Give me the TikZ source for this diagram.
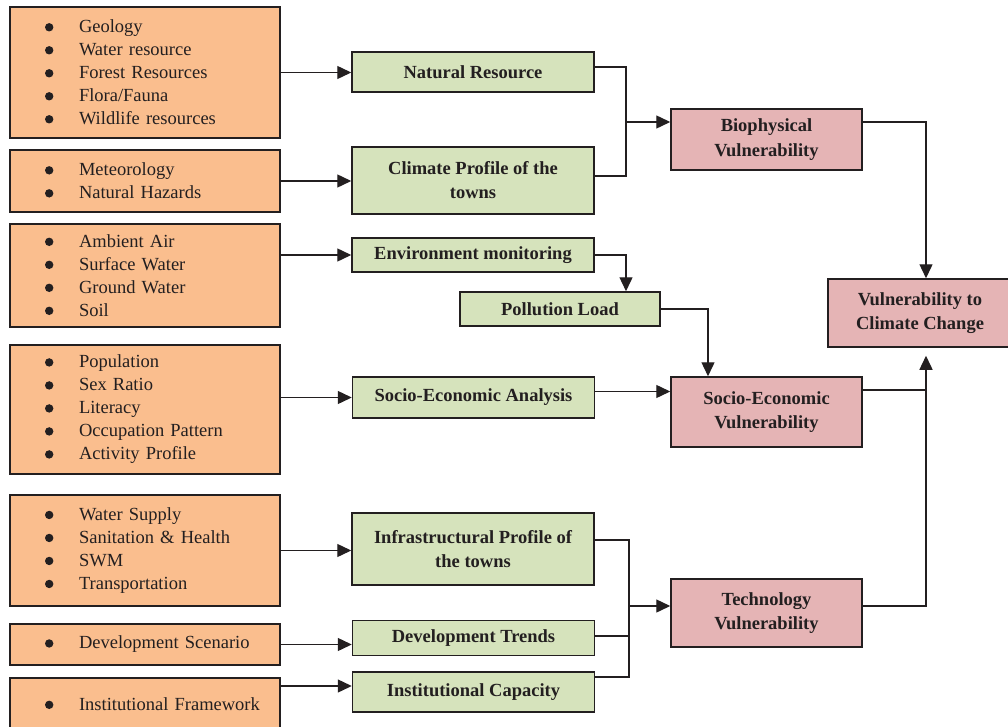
\documentclass[tikz,border=0pt]{standalone}
\usepackage{fontspec}
\setmainfont{Liberation Serif}
\usetikzlibrary{arrows.meta}
\definecolor{srcfill}{RGB}{250,190,142}
\definecolor{midfill}{RGB}{214,227,188}
\definecolor{vulfill}{RGB}{229,180,181}
\definecolor{edgegray}{RGB}{35,31,32}
\newcommand{\bitem}[1]{\hspace*{25pt}\makebox[34pt][l]{\tikz[baseline=0pt, x=1pt, y=1pt]\fill[edgegray] (4.5,5.5) circle[radius=4.2];}#1}

\begin{document}
\begin{tikzpicture}[
    x=1pt, y=-1pt,
    src/.style={rectangle, draw=edgegray, fill=srcfill, line width=1.5pt, text=edgegray, minimum width=270pt, text width=250pt, inner xsep=10pt, align=left, font=\fontsize{18.5}{23}\selectfont},
    mid/.style={rectangle, draw=edgegray, fill=midfill, line width=1.5pt, text=edgegray, minimum width=242pt, inner sep=2pt, align=center, font=\bfseries\fontsize{18.5}{24}\selectfont},
    vul/.style={rectangle, draw=edgegray, fill=vulfill, line width=1.5pt, text=edgegray, minimum width=191pt, inner sep=2pt, align=center, font=\bfseries\fontsize{18.5}{24.5}\selectfont},
    line/.style={line width=1.4pt, edgegray},
    arr/.style={-{Triangle[length=14pt,width=13pt]}, line width=1.4pt, edgegray}
  ]
    \useasboundingbox[fill=white] (0,0) rectangle (1008,727);
    % source boxes
    \node[src, minimum height=131pt] (geo) at (145,72.5) {\bitem{Geology}\\\bitem{Water resource}\\\bitem{Forest Resources}\\\bitem{Flora/Fauna}\\\bitem{Wildlife resources}};
    \node[src, minimum height=62pt] (met) at (145,181) {\bitem{Meteorology}\\\bitem{Natural Hazards}};
    \node[src, minimum height=103pt] (air) at (145,275.5) {\bitem{Ambient Air}\\\bitem{Surface Water}\\\bitem{Ground Water}\\\bitem{Soil}};
    \node[src, minimum height=129pt] (pop) at (145,409.5) {\bitem{Population}\\\bitem{Sex Ratio}\\\bitem{Literacy}\\\bitem{Occupation Pattern}\\\bitem{Activity Profile}};
    \node[src, minimum height=111pt] (wat) at (145,550.5) {\bitem{Water Supply}\\\bitem{Sanitation \& Health}\\\bitem{SWM}\\\bitem{Transportation}};
    \node[src, minimum height=41pt] (dev) at (145,644.5) {\bitem{Development Scenario}};
    \node[src, minimum height=52pt] (ins) at (145,704) {\bitem{Institutional Framework}};
    % analysis boxes
    \node[mid, minimum height=40pt] (nr) at (473,72) {Natural Resource};
    \node[mid, minimum height=67pt] (cli) at (473,180.5) {Climate Profile of the\\towns};
    \node[mid, minimum height=34pt] (env) at (473,255) {Environment monitoring};
    \node[mid, minimum height=34pt, minimum width=200pt] (pol) at (560,309) {Pollution Load};
    \node[mid, minimum height=41pt] (sea) at (473.5,397.5) {Socio-Economic Analysis};
    \node[mid, minimum height=72pt] (inf) at (473,549) {Infrastructural Profile of\\the towns};
    \node[mid, minimum height=35pt] (dtr) at (473.5,638) {Development Trends};
    \node[mid, minimum height=40pt] (ica) at (473.5,692) {Institutional Capacity};
    % vulnerability boxes
    \node[vul, minimum height=61pt] (bio) at (766.5,139.5) {Biophysical\\Vulnerability};
    \node[vul, minimum height=70pt] (sev) at (766.5,412) {Socio-Economic\\Vulnerability};
    \node[vul, minimum height=68pt] (tec) at (766.5,613) {Technology\\Vulnerability};
    \node[vul, minimum height=68pt, minimum width=184pt] (vcc) at (920,313) {Vulnerability to\\Climate Change};
    \coordinate (bj) at (626,122);
    \coordinate (tj) at (629,606);
    \coordinate (vj) at (926,0);
    \draw[arr] (geo.east) -- (geo.east -| nr.west);
    \draw[arr] (met.east) -- (met.east -| cli.west);
    \draw[arr] (air.east |- env.west) -- (env.west);
    \draw[arr] (pop.east |- sea.west) -- (sea.west);
    \draw[arr] (wat.east) -- (wat.east -| inf.west);
    \draw[arr] (dev.east) -- (dev.east -| dtr.west);
    \draw[arr] ([yshift=6pt]ica.west -| ins.east) -- ([yshift=6pt]ica.west);
    \draw[line] ([yshift=5pt]nr.east) -| (bj);
    \draw[line] ([yshift=4.5pt]cli.east) -| (bj);
    \draw[arr] (bj) -- (bj -| bio.west);
    \draw[arr] (env.east) -| ([xshift=66pt]pol.north);
    \draw[arr] (pol.east) -| ([xshift=-58.5pt]sev.north);
    \draw[arr] ([yshift=6pt]sea.east) -- ([yshift=6pt]sea.east -| sev.west);
    \draw[line] ([yshift=9pt]inf.east) -| (tj);
    \draw[line] ([yshift=15pt]ica.east) -| (tj);
    \draw[line] ([yshift=2pt]dtr.east) -- ([yshift=2pt]dtr.east -| tj);
    \draw[arr] (tj) -- (tj -| tec.west);
    \draw[arr] (bj -| bio.east) -| (vj |- vcc.north);
    \draw[line] ([yshift=22pt]sev.east) -- ([yshift=22pt]sev.east -| vj);
    \draw[arr] (tj -| tec.east) -| ([yshift=-8pt]vj |- vcc.south);
  \end{tikzpicture}
\end{document}
